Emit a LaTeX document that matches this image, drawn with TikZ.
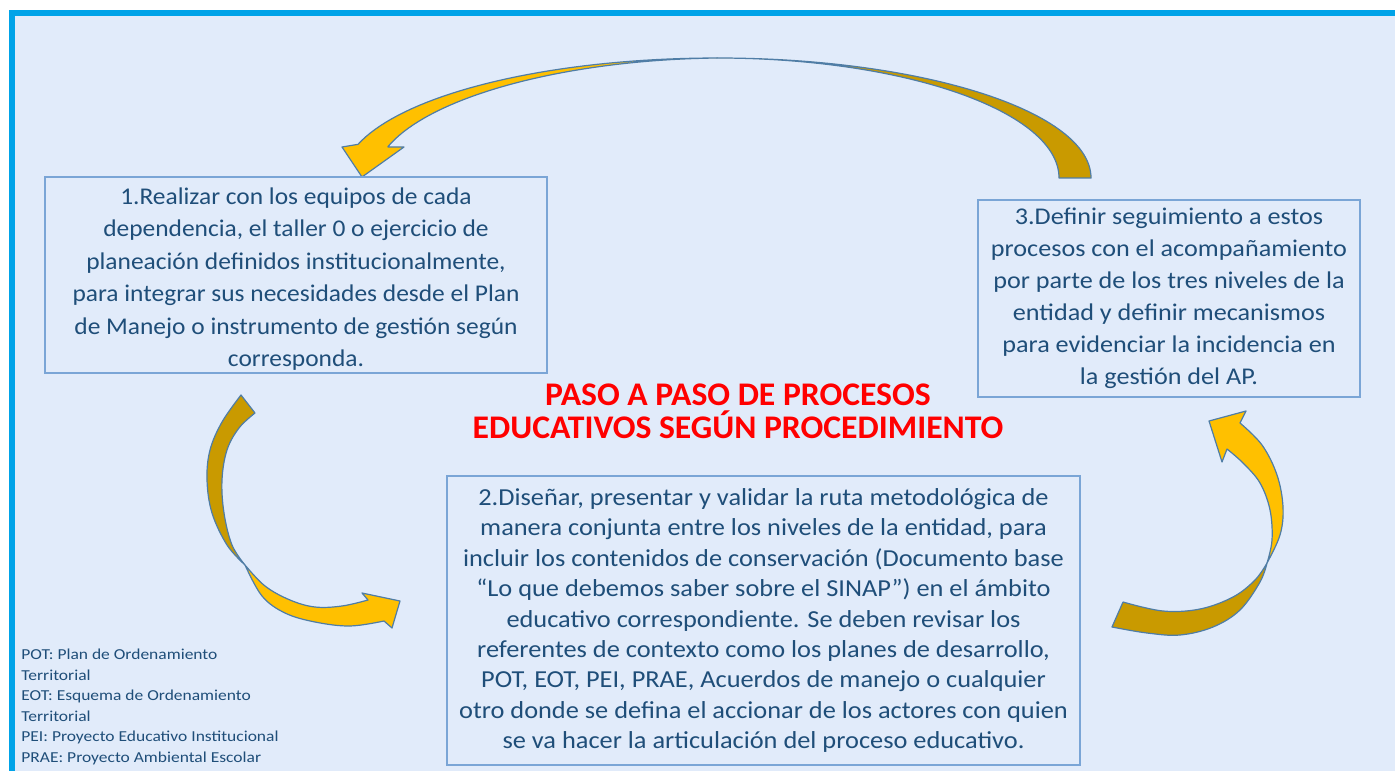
\documentclass[tikz,border=0pt]{standalone}
\usepackage{fontspec}
\setmainfont{Carlito}
\newfontfamily\boxonefont[FakeStretch=1.06]{Carlito}
\newfontfamily\boxthreefont[FakeStretch=1.09]{Carlito}
\newfontfamily\boxtwofont[FakeStretch=1.08]{Carlito}
\newfontfamily\legendfont[FakeStretch=1.15]{Carlito}
\newfontfamily\titlefont[FakeStretch=1.02]{Carlito}
\definecolor{bgblue}{HTML}{E1EBFA}
\definecolor{frameblue}{HTML}{00A3E8}
\definecolor{boxline}{HTML}{7AA5D6}
\definecolor{txt}{HTML}{1F4E79}
\definecolor{gdark}{HTML}{C99A00}
\definecolor{glight}{HTML}{FFC000}
\definecolor{aline}{HTML}{4F7DA6}
\definecolor{titlered}{HTML}{FF0000}
\tikzset{
  stepbox/.style={draw=boxline, line width=0.9pt, align=center, inner sep=0pt, text=txt},
  steptext/.style={align=center, inner sep=0pt, text=txt},
  backband/.style={fill=gdark, draw=aline, line width=0.6pt, line join=round},
  frontband/.style={fill=glight, draw=aline, line width=0.6pt, line join=round},
}
\begin{document}
\begin{tikzpicture}[x=0.5pt, y=-0.5pt]
\useasboundingbox (0,0) rectangle (1395,770);
\clip (0,0) rectangle (1395,770);
\fill[white] (0,0) rectangle (1395,770);
\filldraw[fill=bgblue, draw=frameblue, line width=3pt] (12,13) rectangle (1420,800);

% top arrow (box 3 -> box 1)
\filldraw[backband] (717,58) .. controls (924,58) and (1091,112) .. (1091,178)
  -- (1059,178) .. controls (1059,112) and (906,58) .. (717,58) -- cycle;
\filldraw[frontband] plot[domain=90:163.7, samples=40] ({717+374*cos(\x)},{178-120*sin(\x)})
  -- (342,147) -- (362,177) -- (404,147) -- (388,147)
  -- plot[domain=164.2:90, samples=40] ({717+342*cos(\x)},{178-(120-5*(\x-90)/74)*sin(\x)}) -- cycle;

% left arrow (box 1 -> box 2)
\filldraw[backband] plot[smooth, tension=0.6] coordinates {(241,395) (222,422) (210,450) (207,480) (212,513) (227,545) (245,565)}
  -- plot[smooth, tension=0.6] coordinates {(245,565) (232,545) (224,513) (222,480) (227,450) (239,428) (255,413)} -- cycle;
\filldraw[frontband] plot[smooth, tension=0.6] coordinates {(245,565) (265,586) (290,600) (315,607) (342,606) (368,600)}
  -- (362,593) -- (400,601) -- (392,628) -- (384,621)
  -- plot[smooth, tension=0.6] coordinates {(384,621) (350,626) (315,622) (285,613) (262,596) (245,565)} -- cycle;

% right arrow (box 2 -> box 3)
\filldraw[backband] plot[smooth, tension=0.6] coordinates {(1123,602) (1163,611) (1200,609) (1233,597) (1255,580) (1267,563)}
  -- plot[smooth, tension=0.6] coordinates {(1267,563) (1260,582) (1240,610) (1213,627) (1180,635) (1147,633) (1112,627)} -- cycle;
\filldraw[frontband] plot[smooth, tension=0.6] coordinates {(1267,563) (1280,535) (1283,507) (1277,475) (1262,445) (1240,423)}
  -- (1246,411) -- (1209,421) -- (1222,462) -- (1227,449)
  -- plot[smooth, tension=0.6] coordinates {(1227,449) (1243,463) (1260,483) (1270,510) (1272,540) (1267,563)} -- cycle;

% boxes
\node[stepbox, minimum width=251pt, minimum height=98pt] (b1) at (296,275) {};
\node[steptext, font={\boxonefont\fontsize{12}{16.25}\selectfont}] (b1text) at (296,279)
  {1.Realizar con los equipos de cada\\
   dependencia, el taller 0 o ejercicio de\\
   planeación definidos institucionalmente,\\
   para integrar sus necesidades desde el Plan\\
   de Manejo o instrumento de gestión según\\
   corresponda.};
\node[stepbox, minimum width=191pt, minimum height=98.5pt, font={\boxthreefont\fontsize{12}{16}\selectfont}] (b3) at (1169,298.5)
  {3.Definir seguimiento a estos\\
   procesos con el acompañamiento\\
   por parte de los tres niveles de la\\
   entidad y definir mecanismos\\
   para evidenciar la incidencia en\\
   la gestión del AP.};
\node[stepbox, minimum width=316.5pt, minimum height=144.5pt, font={\boxtwofont\fontsize{12.2}{15.2}\selectfont}] (b2) at (763.5,620.5)
  {2.Diseñar, presentar y validar la ruta metodológica de\\
   manera conjunta entre los niveles de la entidad, para\\
   incluir los contenidos de conservación (Documento base\\
   “Lo que debemos saber sobre el SINAP”) en el ámbito\\
   educativo correspondiente. Se deben revisar los\\
   referentes de contexto como los planes de desarrollo,\\
   POT, EOT, PEI, PRAE, Acuerdos de manejo o cualquier\\
   otro donde se defina el accionar de los actores con quien\\
   se va hacer la articulación del proceso educativo.};

% title
\node[align=center, inner sep=0pt, text=titlered, font={\titlefont\bfseries\fontsize{16.5}{16.5}\selectfont}] (title) at (738,411)
  {PASO A PASO DE PROCESOS\\EDUCATIVOS SEGÚN PROCEDIMIENTO};

% legend
\node[align=left, anchor=north west, inner sep=0pt, text=txt, font={\legendfont\fontsize{7.6}{10.25}\selectfont}] (legend) at (21,649)
  {POT: Plan de Ordenamiento\\
   Territorial\\
   EOT: Esquema de Ordenamiento\\
   Territorial\\
   PEI: Proyecto Educativo Institucional\\
   PRAE: Proyecto Ambiental Escolar};
\end{tikzpicture}
\end{document}
